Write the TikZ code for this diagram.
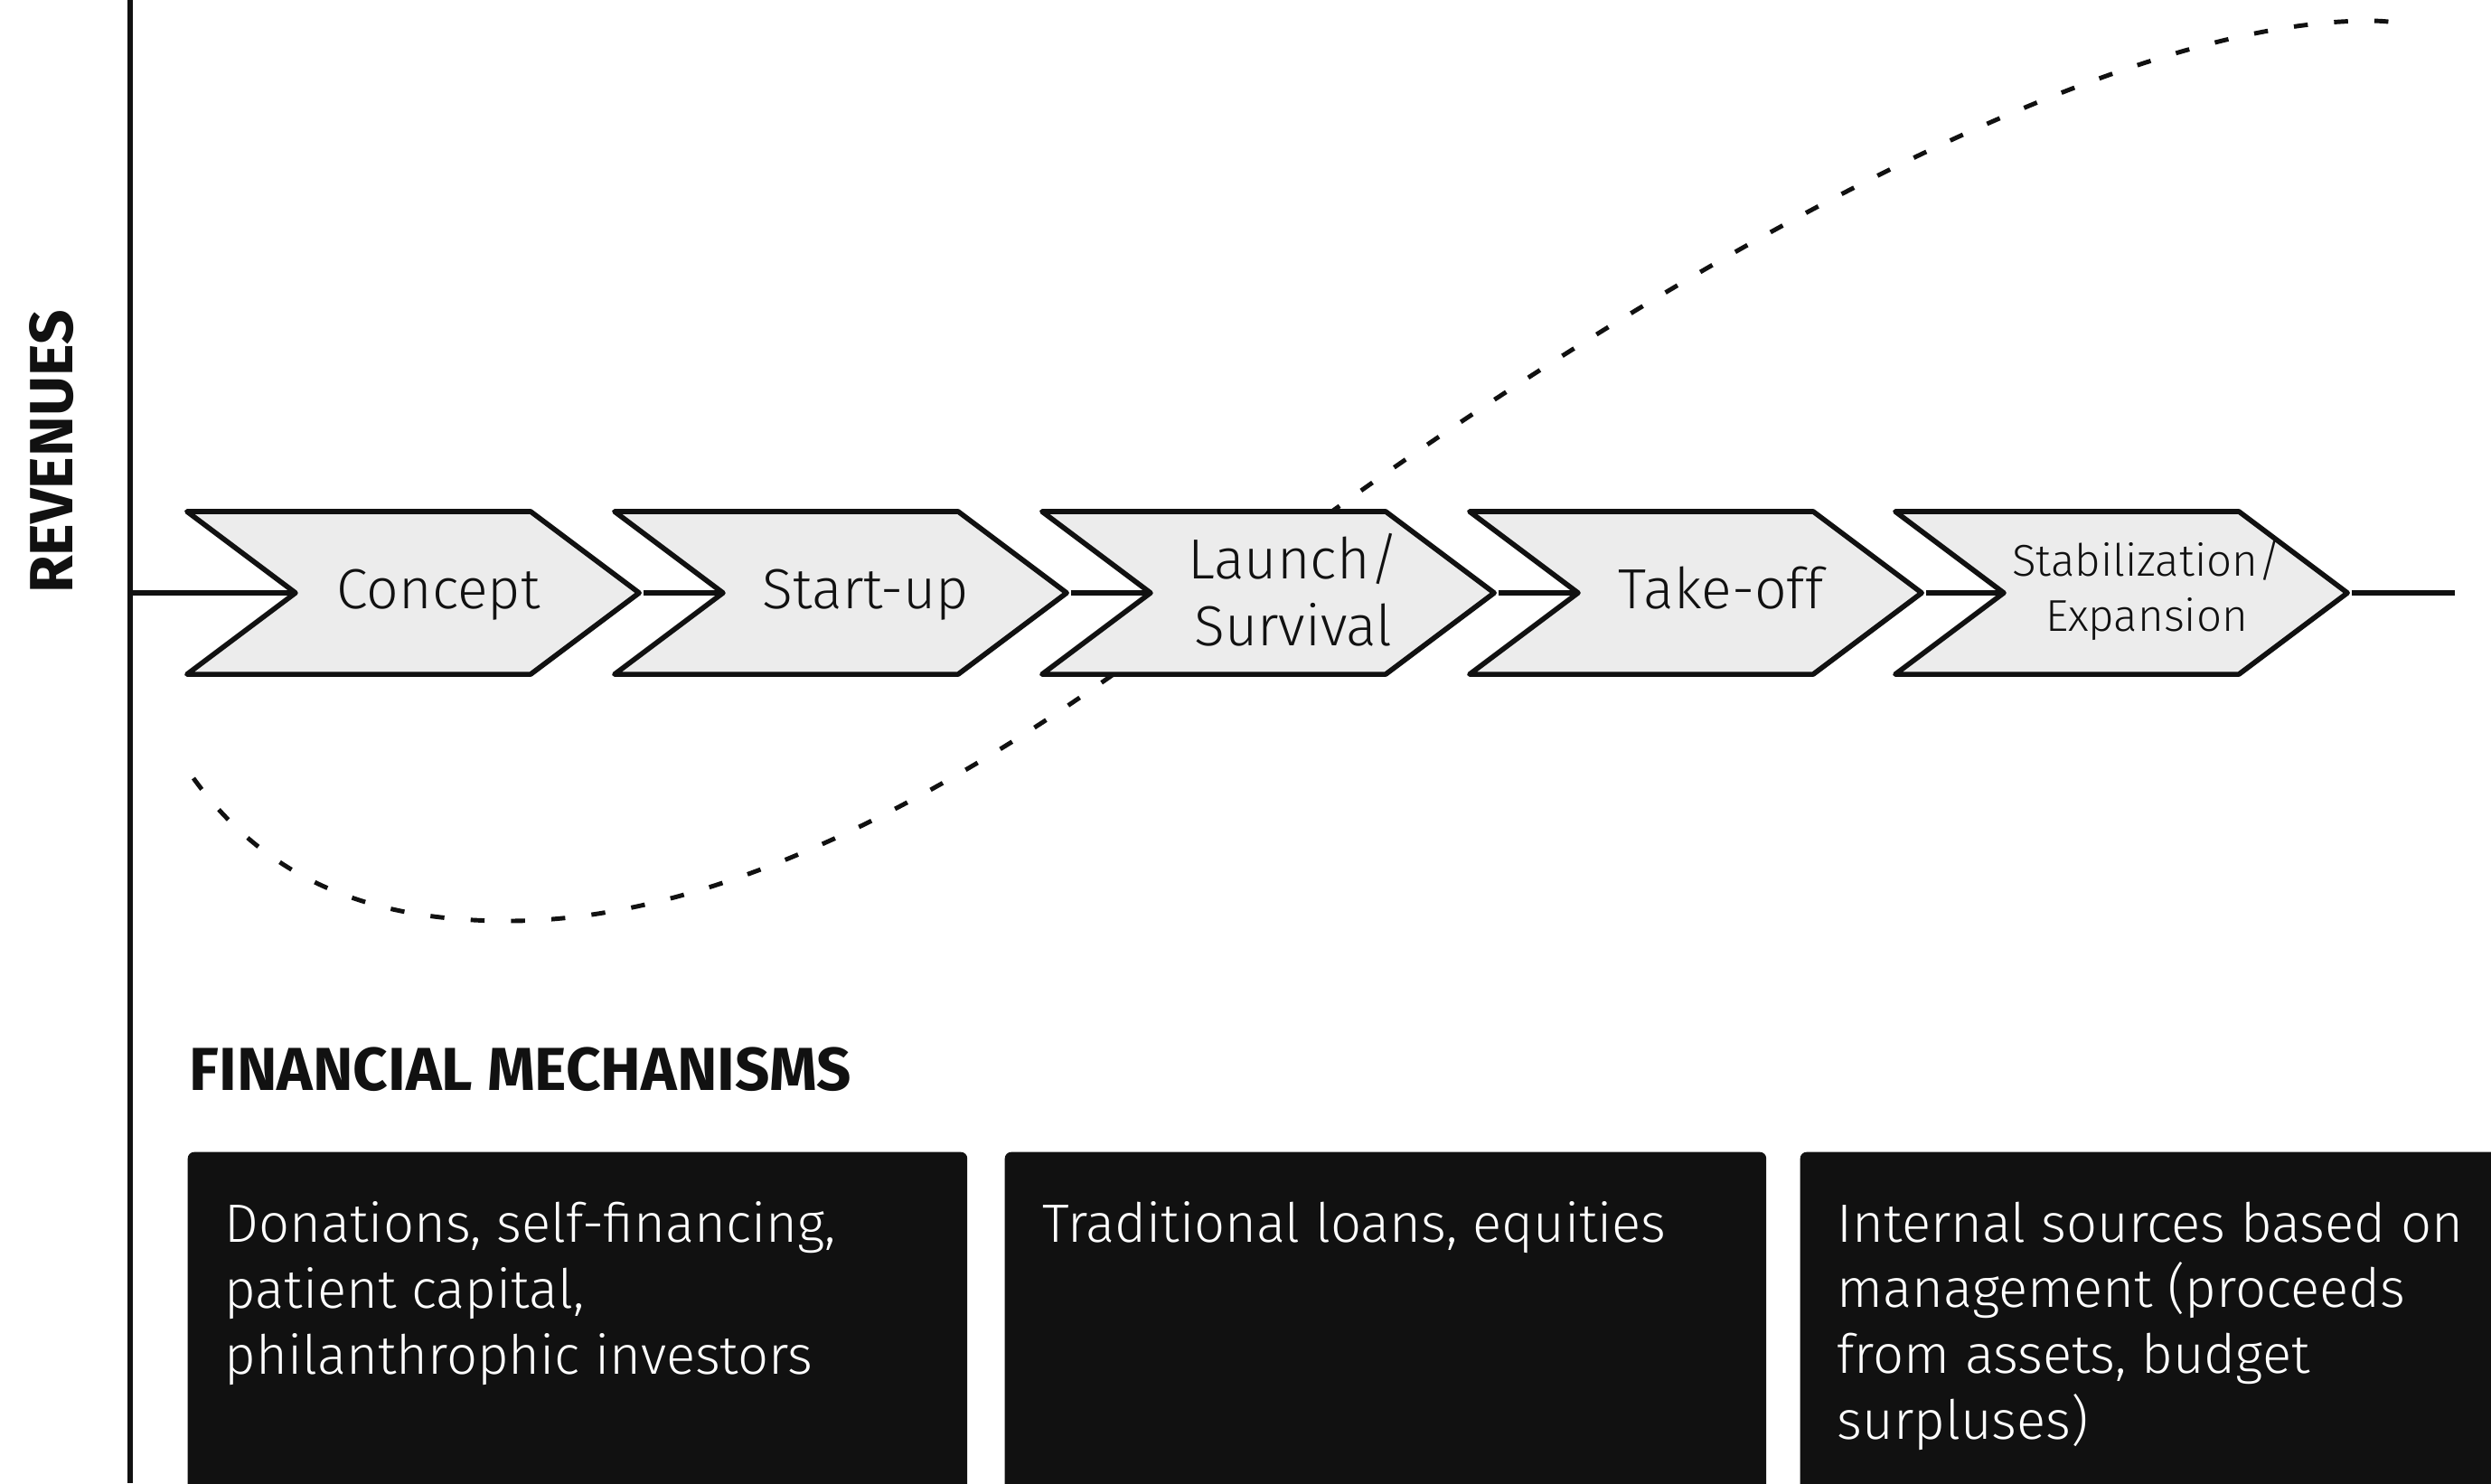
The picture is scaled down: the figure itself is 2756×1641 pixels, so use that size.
\documentclass[tikz,border=0pt]{standalone}
\usepackage{fontspec}
\setmainfont{Fira Sans}[UprightFont={* Light}, BoldFont={* Bold}]
\usetikzlibrary{positioning,shapes.symbols}
\definecolor{ink}{HTML}{111111}
\definecolor{stagegray}{HTML}{ECECEC}

\begin{document}
\begin{tikzpicture}[
      x=0.01cm, y=-0.01cm,
      stage/.style={signal, signal from=west, signal to=east,
                    signal pointer angle=73.74, draw=ink, fill=stagegray,
                    line width=1.6pt, line join=round,
                    minimum width=5cm, minimum height=1.8cm, inner sep=0pt},
      stagetxt/.style={font=\fontsize{17.8}{21}\selectfont, align=center,
                       text=ink, xshift=0.28cm, yshift=0.03cm},
      onetxt/.style={stagetxt, text height=13pt, text depth=4pt, yshift=-0.05cm},
      smalltxt/.style={stagetxt, font=\fontsize{14}{17.4}\selectfont},
      axis/.style={draw=ink, line width=1.6pt},
      trend/.style={draw=ink, line width=1.4pt, line cap=butt,
                    dash pattern=on 4.4pt off 8.3pt},
      finbox/.style={fill=ink, rounded corners=2pt, anchor=north west,
                     minimum height=5cm, inner sep=0pt},
      fintxt/.style={text=white, align=left, inner sep=0pt,
                     font=\fontsize{17}{20.7}\selectfont},
      heading/.style={font=\bfseries\fontsize{19.1}{22}\selectfont,
                      text=ink, inner sep=0pt}
    ]
    \useasboundingbox (0,0) rectangle (2756,1641);
    \clip (0,0) rectangle (2756,1641);

    % Axis
    \coordinate (ytop)   at (144,0);
    \coordinate (ybot)   at (144,1641);
    \coordinate (origin) at (144,656);
    \coordinate (xend)   at (2716,656);
    \draw[axis] (ytop) -- (ybot);
    \node[heading, rotate=90, font=\bfseries\fontsize{19.2}{22}\selectfont]
      (rev) at (57,500) {REVENUES};

    % Revenue curve (behind the stages)
    \coordinate (cstart) at (214,861);
    \coordinate (cmin)   at (562,1019);
    \coordinate (cmid)   at (1353,656);
    \coordinate (cmax)   at (2621,23);
    \coordinate (cend)   at (2665,29);
    \draw[trend] (cstart) .. controls (300,980) and (420,1019) .. (cmin)
                 .. controls (820,1019) and (1110,846) .. (cmid)
                 .. controls (1600,463) and (2250,23) .. (cmax)
                 .. controls (2640,23) and (2656,25) .. (cend);

    % Stages
    \node[stage, label={[onetxt]center:Concept}] (concept) at (457,656) {};
    \node[stage, label={[onetxt]center:Start-up}] (startup) at (930,656) {};
    \node[stage, label={[stagetxt]center:Launch/\\Survival}] (launch) at (1403,656) {};
    \node[stage, label={[onetxt]center:Take-off}] (takeoff) at (1876,656) {};
    \node[stage, label={[smalltxt]center:Stabilization/\\Expansion}] (stab) at (2347,656) {};

    \draw[axis] (origin)  -- (concept.west);
    \draw[axis] (concept) -- (startup.west);
    \draw[axis] (startup) -- (launch.west);
    \draw[axis] (launch)  -- (takeoff.west);
    \draw[axis] (takeoff) -- (stab.west);
    \draw[axis] (stab.east) -- (xend);

    % Financial mechanisms
    \node[heading, anchor=base west] (fin) at (209,1206) {FINANCIAL MECHANISMS};
    \node[finbox, minimum width=8.62cm] (fin1) at (207,1274) {};
    \node[finbox, minimum width=8.42cm] (fin2) at (1111,1274) {};
    \node[finbox, minimum width=8.2cm]  (fin3) at (1991,1274) {};
    \node[fintxt, below right=0.55cm and 0.41cm of fin1.north west]
      (fin1txt) {Donations, self-financing,\\patient capital,\\philanthrophic investors};
    \node[fintxt, below right=0.55cm and 0.42cm of fin2.north west]
      (fin2txt) {Traditional loans, equities};
    \node[fintxt, below right=0.55cm and 0.41cm of fin3.north west]
      (fin3txt) {Internal sources based on\\management (proceeds\\from assets, budget\\surpluses)};
  \end{tikzpicture}
\end{document}
